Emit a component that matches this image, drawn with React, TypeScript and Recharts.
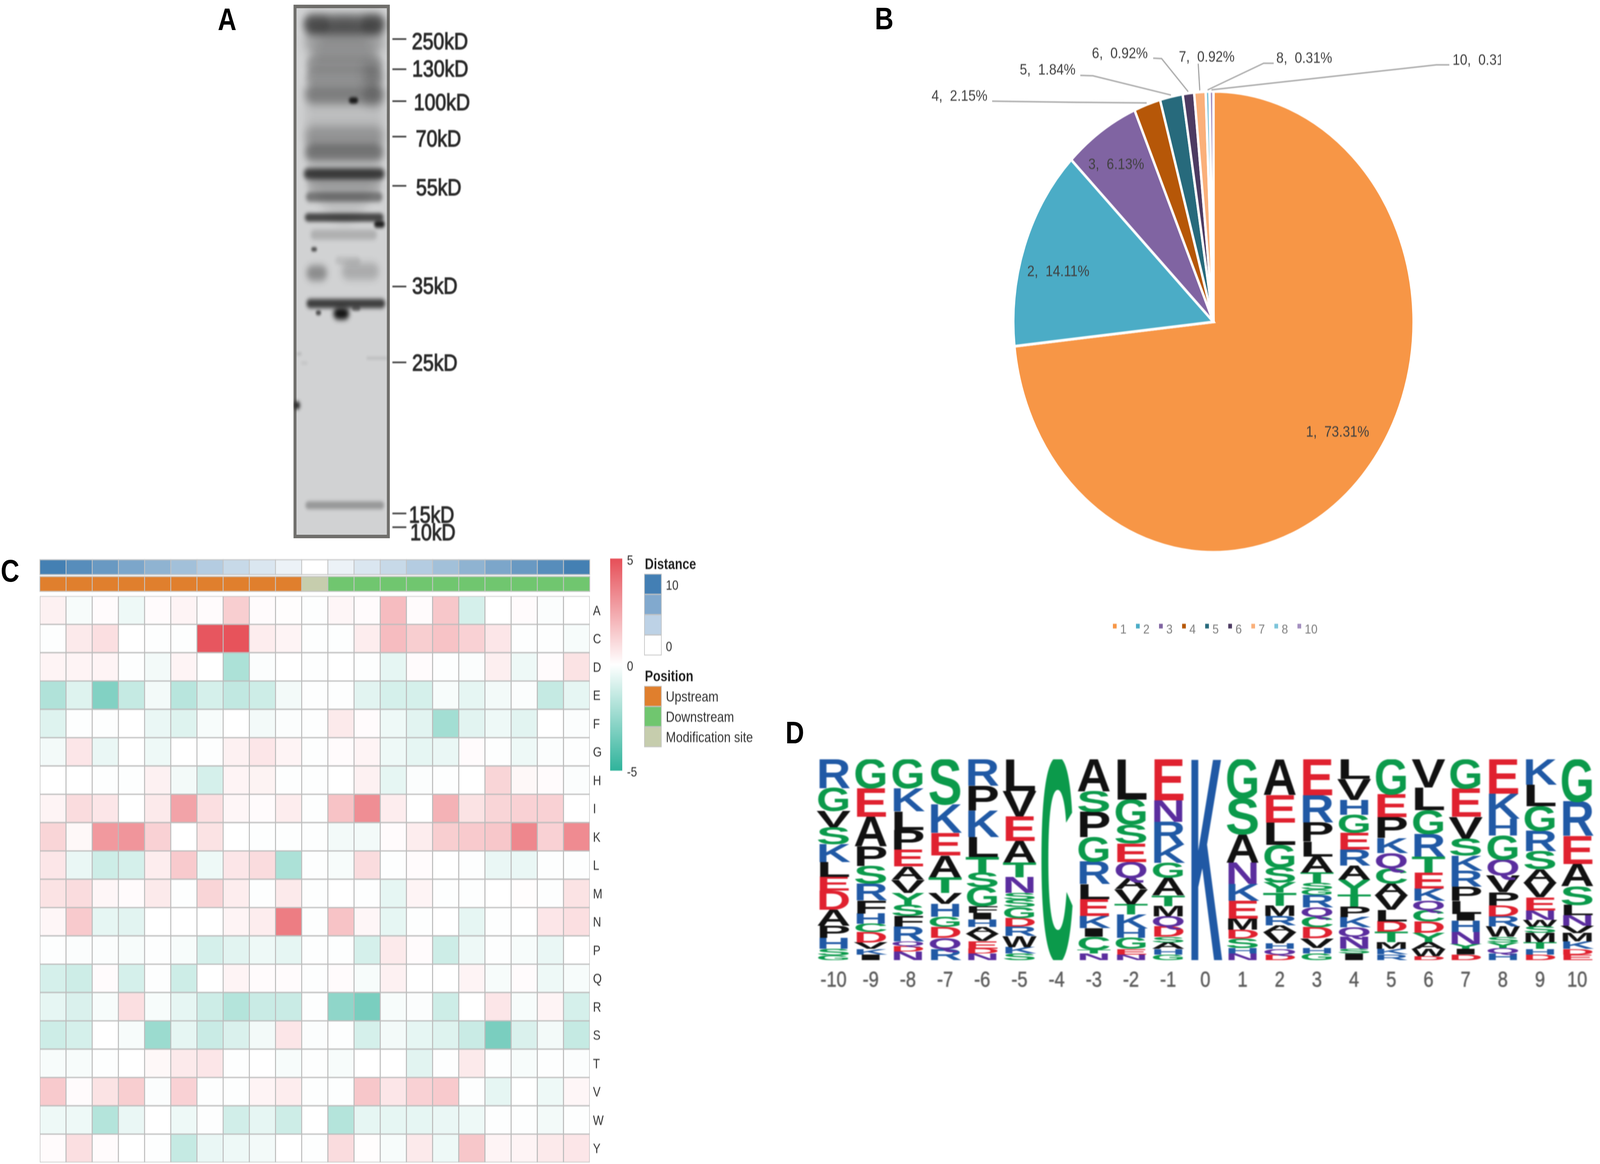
import React from 'react';
import { BarChart, Bar, XAxis, YAxis, ScatterChart, Scatter, PieChart, Pie, Legend } from 'recharts';

const FONT = '"Liberation Sans", Arial, sans-serif';
const PAGE_W = 4938;
const PAGE_H = 2980;

/* ---------- Panel A: blot ---------- */
const mwTicks = [110, 195, 285, 385, 524, 808, 1022, 1448, 1487];
const mwLabels = ['250kD', '130kD', '100kD', '70kD', '55kD', '35kD', '25kD', '15kD', '10kD'];
const bandLane = [722, 722, 590, 860, 722, 722, 722, 860, 722, 767, 860, 722, 722, 722, 722, 722, 722, 892, 720, 577, 590, 800, 740, 730, 708, 598, 780, 725, 495, 880, 505, 530];
const bandMigration = [340, 68, 68, 68, 115, 180, 215, 210, 265, 283, 270, 385, 430, 490, 520, 555, 613, 632, 662, 703, 770, 765, 735, 856, 884, 882, 870, 1425, 1143, 1010, 998, 1024];
const bandHalfWidth = [190, 195, 60, 55, 190, 185, 185, 50, 190, 22, 50, 190, 190, 195, 180, 185, 190, 26, 160, 14, 50, 90, 60, 190, 38, 13, 20, 190, 14, 50, 12, 15];
const bandHalfHeight = [290, 28, 24, 26, 50, 22, 22, 35, 28, 9, 30, 30, 24, 16, 20, 14, 12, 10, 14, 6, 22, 24, 12, 13, 17, 7, 7, 11, 12, 4, 4, 4];
const bandDensity = [0.1, 0.55, 0.25, 0.3, 0.28, 0.25, 0.25, 0.2, 0.38, 0.95, 0.2, 0.25, 0.42, 0.78, 0.2, 0.48, 0.72, 0.95, 0.18, 0.7, 0.36, 0.2, 0.1, 0.78, 1, 0.7, 0.45, 0.3, 0.9, 0.1, 0.14, 0.07];
const blotRows = bandLane.map((lane, i) => ({ lane, mig: bandMigration[i], hw: bandHalfWidth[i], hh: bandHalfHeight[i], d: bandDensity[i] }));

/* ---------- Panel B: pie ---------- */
const sliceNames = ['1', '2', '3', '4', '5', '6', '7', '8', '10'];
const sliceValues = [73.31, 14.11, 6.13, 2.15, 1.84, 0.92, 0.92, 0.31, 0.31];
const sliceColors = ['#F79646', '#4BACC6', '#8064A2', '#B65708', '#276A7C', '#4D3B62', '#FAB07A', '#7CC4DA', '#A48FC0'];
const pieRows = sliceNames.map((name, i) => ({ name, value: sliceValues[i], fill: sliceColors[i] }));

/* ---------- Panel C: heat map ---------- */
const aminoAcids = ['A', 'C', 'D', 'E', 'F', 'G', 'H', 'I', 'K', 'L', 'M', 'N', 'P', 'Q', 'R', 'S', 'T', 'V', 'W', 'Y'];
const positions = [-10, -9, -8, -7, -6, -5, -4, -3, -2, -1, 0, 1, 2, 3, 4, 5, 6, 7, 8, 9, 10];
const rowA = [0.4, -0.2, 0.1, -0.4, 0.1, 0.3, 0.1, 1.4, 0.1, 0.05, -0.05, 0.25, 0.1, 1.9, 0.1, 1.6, -1, 0, 0.1, -0.1, 0];
const rowC = [-0.05, 0.6, 0.9, 0, -0.05, -0.05, 4.8, 4.9, 0.5, 0.3, -0.05, -0.05, 0.5, 1.9, 1.4, 1.7, 1.3, 0.7, -0.05, -0.05, -0.2];
const rowD = [0.3, 0.3, 0.3, -0.05, -0.3, 0.3, 0, -2, -0.1, 0, -0.05, 0, -0.05, -0.6, 0.1, -0.05, -0.1, 0.45, -0.4, 0.1, 0.8];
const rowE = [-1.9, -0.8, -3, -1.4, -0.3, -1.7, -1, -1.5, -1.2, -0.3, -0.05, -0.05, -0.7, -1, -1, -0.2, -0.6, -0.3, -0.1, -1.4, -0.6];
const rowF = [-0.8, -0.05, -0.05, 0, -0.5, -0.8, -0.2, 0, -0.3, -0.1, -0.05, 0.6, 0.1, -0.4, -0.7, -2.2, -0.7, -0.4, -0.7, 0, -0.1];
const rowG = [-0.3, 0.7, -0.5, 0, -0.4, 0, -0.05, 0.4, 0.7, 0.3, -0.05, 0.1, 0.3, -0.4, -0.6, -0.5, 0.1, -0.05, -0.4, -0.1, -0.05];
const rowH = [0, 0, -0.05, -0.05, 0.4, -0.3, -1, 0.3, 0.35, -0.05, -0.05, 0, 0.4, -0.6, -0.1, -0.05, 0, 1.2, 0.2, 0.1, -0.1];
const rowI = [0.3, 1, 0.7, 0, 0.6, 2.6, 0.9, 0.25, 0.1, 0.5, -0.05, 1.7, 3.2, 0.5, 0, 2.2, 0.8, 1.2, 1.3, 1.3, 0];
const rowK = [1.2, 0.2, 2.9, 3, 1.3, 0, 0.8, 0, -0.05, -0.05, -0.05, -0.3, -0.3, 0.1, 0.5, 1.4, 1.5, 1.6, 3.4, 1.3, 3.3];
const rowL = [0.7, -0.5, -1.2, -1, 0.5, 1.5, -0.4, 0.7, 1, -2, -0.05, -0.2, 1, -0.05, 0.1, 0, -0.05, -0.5, -0.5, -0.05, -0.05];
const rowM = [0.8, 1, 0.25, 0.1, 0.6, -0.05, 1.2, 0.5, -0.05, 0.6, -0.05, 0, -0.05, -0.6, 0.3, -0.05, -0.05, 0, 0.05, -0.05, 0.8];
const rowN = [0.25, 1.5, -0.6, -0.7, 0, 0, 0, 0.3, 0.5, 3.7, -0.05, 1.7, 0.25, -0.6, -0.05, 0, -0.6, -0.05, 0, 0.7, 0.9];
const rowP = [-0.05, -0.1, -0.1, -0.2, -0.05, -0.2, -1, -0.7, -0.4, -0.6, -0.05, -0.05, -1, 0.6, 0.1, -1.2, -0.4, -0.05, -0.2, -0.5, 0];
const rowQ = [-1, -1.2, 0.1, -1, -0.05, -1.2, 0, 0.3, 0.1, 0.1, -0.05, 0.1, -0.2, 0.4, 0, 0, 0.3, -0.2, 0.1, -0.4, -0.2];
const rowR = [-0.6, -0.9, -0.2, 0.9, -0.2, -0.6, -1.2, -1.8, -1.3, -1.3, -0.05, -2.7, -3.2, -0.2, -0.1, -1.2, 0, 0.7, -0.2, 0.3, -1];
const rowS = [-1.2, -1, 0, -0.2, -2.4, -0.6, -1.3, -0.9, -0.3, 0.7, -0.1, -0.05, -1, -0.3, -0.6, -0.8, -1.3, -3.2, -0.9, -0.3, -1.4];
const rowT = [-0.2, -0.2, -0.05, 0, 0.2, 0.6, 0.7, -0.05, 0, -0.2, -0.05, -0.2, 0, 0, -0.7, -0.05, 0.6, -0.05, -0.2, -0.05, -0.1];
const rowV = [1.5, 0.1, 0.8, 1.4, -0.1, 1.3, -0.05, -0.05, 0.3, 0.5, -0.05, -0.05, 1.6, 0.7, 1.3, 1.5, -0.05, -0.6, 0, -0.4, 0.25];
const rowW = [-0.4, -0.4, -1.8, -0.5, 0, -0.4, -0.05, -1.1, -0.6, -1.2, 0, -1.8, -0.6, -0.6, -0.6, -0.5, -0.4, -0.05, -0.05, -0.3, -0.05];
const rowY = [0.1, 0.9, 0.1, 0, -0.05, -1.4, -0.5, -0.4, -0.3, 0, -0.05, 1, 0.05, -0.2, 0.6, -0.4, 1.6, 0.3, 0.3, 0.6, 0.7];
const heatRows = [rowA, rowC, rowD, rowE, rowF, rowG, rowH, rowI, rowK, rowL, rowM, rowN, rowP, rowQ, rowR, rowS, rowT, rowV, rowW, rowY];

const distances = [10, 9, 8, 7, 6, 5, 4, 3, 2, 1, 0, 1, 2, 3, 4, 5, 6, 7, 8, 9, 10];
const regionNames = ['Upstream', 'Downstream', 'Modification site'];
const regionColors = ['#E07F2D', '#70C66F', '#C6CDAD'];
const regionOfPosition = [0, 0, 0, 0, 0, 0, 0, 0, 0, 0, 2, 1, 1, 1, 1, 1, 1, 1, 1, 1, 1];
const distanceLegend = ['#437FB4', '#81A9CE', '#BDD2E6', '#FFFFFF'];

/* ---------- Panel D: sequence logo ---------- */
const logoLetters = ['RGVSKLEDAPHSG', 'GEAPSRFHCDVKI', 'GKLPEAVYSFRQDN', 'SKEATVHGDQR', 'RPKLTSGFIHAVEDN', 'LVEATNSSGDRWKS', 'C', 'ASPGRLEKICTN', 'LGSEQAVTKHGEN', 'ENRKGATMQDSAHG', 'K', 'GSANKEMDSHN', 'AELGSYTMRAVHQD', 'ERPLATSGRQCDVHG', 'LVHGERAYTPKQNSI', 'GEPKQCAVLDTMKR', 'VLGRTEKQCDYAWD', 'GEVSKRPLIHNYID', 'EKHGQVPDRWSYQH', 'KLGRSAVENWSMTHD', 'GREASLNVMKDE'];
const logoHeights = [
  [155, 123, 88, 90, 96, 80, 75, 103, 85, 65, 60, 35, 25],
  [155, 153, 160, 105, 95, 90, 70, 55, 45, 55, 35, 30, 30],
  [155, 123, 100, 105, 90, 70, 70, 65, 60, 55, 80, 25, 30, 45],
  [245, 155, 123, 118, 85, 60, 70, 55, 60, 60, 60],
  [140, 130, 140, 105, 85, 75, 100, 35, 35, 40, 35, 40, 40, 25, 35],
  [170, 137, 132, 115, 80, 85, 35, 40, 60, 45, 50, 60, 35, 35],
  [1115],
  [170, 110, 135, 130, 120, 80, 90, 65, 45, 70, 20, 35],
  [215, 135, 100, 100, 85, 60, 80, 55, 75, 50, 60, 30, 30],
  [220, 115, 122, 98, 80, 95, 57, 55, 55, 55, 30, 35, 30, 30],
  [1115],
  [210, 190, 150, 115, 90, 95, 60, 47, 50, 30, 35],
  [190, 147, 120, 120, 80, 55, 70, 55, 50, 35, 60, 30, 30, 30],
  [190, 145, 100, 80, 85, 55, 35, 30, 65, 50, 55, 60, 50, 30, 35],
  [105, 112, 80, 95, 90, 85, 75, 80, 65, 55, 55, 50, 65, 25, 35],
  [185, 120, 110, 80, 80, 80, 60, 80, 60, 55, 55, 35, 30, 30],
  [150, 120, 125, 120, 85, 85, 65, 50, 60, 60, 50, 35, 40, 20],
  [155, 150, 115, 90, 80, 85, 75, 70, 35, 60, 65, 25, 30, 30],
  [185, 135, 90, 130, 85, 90, 70, 60, 55, 55, 30, 30, 30, 35],
  [135, 115, 130, 110, 95, 70, 80, 70, 50, 35, 35, 50, 35, 30, 30],
  [225, 185, 150, 120, 100, 55, 55, 40, 45, 40, 30, 30],
];
const residueColor = (c: string) => {
  if ('GSTCY'.includes(c)) return '#0B9A4B';
  if ('RKH'.includes(c)) return '#2059A5';
  if ('ED'.includes(c)) return '#E0212F';
  if ('NQ'.includes(c)) return '#5A2D9E';
  return '#111111';
};
const MAX_STACK = Math.max(...logoLetters.map((s) => s.length));
const logoRows = positions.map((pos, c) => {
  const row: any = { pos };
  const hs = logoHeights[c];
  const sum = hs.reduce((a, b) => a + b, 0);
  const letters = logoLetters[c];
  hs.forEach((h, i) => {
    const k = hs.length - 1 - i; // stack slot, counted from the bottom
    row['s' + k] = (h / sum) * 100;
    row['l' + k] = letters[i];
  });
  return row;
});

/* ---------- helpers ---------- */
const hex = (c: string) => [1, 3, 5].map((i) => parseInt(c.slice(i, i + 2), 16));
const mix = (a: string, t: number) => {
  const v = hex(a).map((ch) => Math.round(255 + (ch - 255) * t));
  return `rgb(${v[0]},${v[1]},${v[2]})`;
};
const heatColor = (v: number) => (v >= 0 ? mix('#E64F58', Math.min(v / 5, 1)) : mix('#2FB39B', Math.min(-v / 5, 1)));

const heatData = heatRows.flatMap((vals, r) => vals.map((v, c) => ({ col: c, row: r, v })));
const distanceRows = positions.map((pos, i) => ({ pos, one: 1, fill: mix('#4480B3', distances[i] / 10) }));
const regionRows = positions.map((pos, i) => ({ pos, one: 1, fill: regionColors[regionOfPosition[i]] }));

const Abs = ({ x, y, size, color = '#333', bold = false, children }: any) => (
  <div style={{ position: 'absolute', left: x, top: y, transform: 'translateY(-50%)', fontFamily: FONT, fontSize: size, color, fontWeight: bold ? 700 : 400, whiteSpace: 'pre', lineHeight: 1 }}>{children}</div>
);
const Box = ({ x, y, w, h, fill }: any) => (
  <div style={{ position: 'absolute', left: x, top: y, width: w, height: h, background: fill, boxSizing: 'border-box', border: '2px solid #c2c2c2' }} />
);

/* ---------- Panel A ---------- */
const labelDx = [68, 69, 74, 80, 81, 69, 69, 59, 63];
const labelDy = [4, -3, 2, 4, 3, -3, 0, 2, 12];
const BLOT_X = 297 / 464;
const BLOT_Y = 1366 / 1505;
const BandShape = (p: any) => {
  const { cx, cy, payload } = p;
  if (cx == null || cy == null) return null;
  const w = payload.hw * BLOT_X;
  const h = payload.hh * BLOT_Y;
  const blur = Math.max(3, Math.min(h * 0.45, 14));
  return <rect x={cx - w} y={cy - h} width={2 * w} height={2 * h} rx={h} ry={h} fill="#141414" fillOpacity={payload.d} style={{ filter: `blur(${blur}px)` }} />;
};
const BlotTick = ({ x, y, index }: any) => (
  <g>
    <line x1={x + 8} x2={x + 51} y1={y} y2={y} stroke="#333" strokeWidth={4} />
    <text x={x + labelDx[index]} y={y + labelDy[index]} dy="0.36em" fontFamily={FONT} fontSize={60} fill="#2a2a2a" stroke="#2a2a2a" strokeWidth={2}>{mwLabels[index]}</text>
  </g>
);
const PanelA = () => (
  <>
    <div style={{ position: 'absolute', left: 906, top: 12, width: 297, height: 1366, boxSizing: 'border-box', background: '#d1d2d3', border: '9px solid #706f6c' }} />
    <div style={{ position: 'absolute', left: 880, top: 0, filter: 'blur(1.5px)' }}>
      <ScatterChart width={720} height={1420} margin={{ top: 12, left: 26, right: 0, bottom: 42 }}>
        <XAxis type="number" dataKey="lane" domain={[478, 942]} hide allowDataOverflow />
        <YAxis type="number" dataKey="mig" domain={[13, 1518]} reversed orientation="right" width={397} ticks={mwTicks} interval={0} axisLine={false} tickLine={false} tickSize={0} tickMargin={0} tick={<BlotTick />} allowDataOverflow />
        <Scatter data={blotRows} shape={BandShape} isAnimationActive={false} />
      </ScatterChart>
    </div>
  </>
);

/* ---------- Panel B ---------- */
const PIE_LEFT = 2840;
const PIE_SX = 1.047;
const PIE_CX = (3745 - PIE_LEFT) / PIE_SX;
const PIE_CY = 824;
const PIE_R = 590;
const px = (real: number) => (real - PIE_LEFT) / PIE_SX;
const labelSpots: any = {
  0: { x: 4128, y: 1104, mid: true },
  1: { x: 3266, y: 693, mid: true },
  2: { x: 3445, y: 419, mid: true },
  3: { x: 2875, y: 244, line: [[3062, 259], [3323, 262]] },
  4: { x: 3147, y: 177, line: [[3334, 193], [3373, 194]] },
  5: { x: 3370, y: 135, line: [[3559, 149], [3585, 150]] },
  6: { x: 3638, y: 144, line: [[3698, 163]] },
  7: { x: 3939, y: 147, line: [[3931, 162], [3900, 162]] },
  8: { x: 4483, y: 152, line: [[4473, 166], [4433, 166]] },
};
const PieLabel = (p: any) => {
  const i = p.index;
  const s = labelSpots[i];
  const text = `${sliceNames[i]},  ${sliceValues[i].toFixed(2)}%`;
  const rad = (-p.midAngle * Math.PI) / 180;
  const ax = PIE_CX + (PIE_R + 4) * Math.cos(rad);
  const ay = PIE_CY + (PIE_R + 4) * Math.sin(rad);
  return (
    <g>
      {s.line && <polyline points={[...s.line.map((q: number[]) => `${px(q[0])},${q[1]}`), `${ax},${ay}`].join(' ')} fill="none" stroke="#a6a6a6" strokeWidth={3.5} />}
      <text x={px(s.x)} y={s.y} dy="0.36em" textAnchor={s.mid ? 'middle' : 'start'} fontFamily={FONT} fontSize={39} fill="#404040" style={{ whiteSpace: 'pre' }}>{text}</text>
    </g>
  );
};
const PieLegend = () => (
  <div style={{ display: 'flex', fontFamily: FONT, fontSize: 34, color: '#7f7f7f', lineHeight: '44px' }}>
    {sliceNames.map((n, i) => (
      <div key={n} style={{ width: 68, display: 'flex', alignItems: 'flex-start' }}>
        <span style={{ width: 11, height: 12, marginTop: 9, marginRight: 10, background: sliceColors[i], flex: 'none' }} />
        <span>{n}</span>
      </div>
    ))}
  </div>
);
const PanelB = () => (
  <div style={{ position: 'absolute', left: PIE_LEFT, top: 0, width: 4632 - PIE_LEFT, height: 1680, overflow: 'hidden', filter: 'blur(0.8px)' }}>
    <div style={{ transform: `scaleX(${PIE_SX})`, transformOrigin: '0 0', width: 1712 }}>
      <PieChart width={1712} height={1680} margin={{ top: 0, left: 0, right: 0, bottom: 0 }}>
        <Pie data={pieRows} dataKey="value" nameKey="name" cx={PIE_CX} cy={PIE_CY} innerRadius={0} outerRadius={PIE_R} startAngle={90} endAngle={-270} stroke="#ffffff" strokeWidth={7} label={PieLabel} labelLine={false} isAnimationActive={false} />
        <Legend content={<PieLegend />} wrapperStyle={{ position: 'absolute', left: px(3435), top: 1588, width: 760, bottom: 'auto' }} />
      </PieChart>
    </div>
  </div>
);

/* ---------- Panel C ---------- */
const CELL_W = 1697 / 21;
const CELL_H = 1450 / 20;
const HeatCell = (p: any) => {
  const { cx, cy, payload } = p;
  if (cx == null || cy == null) return null;
  return <rect x={cx - CELL_W / 2} y={cy - CELL_H / 2} width={CELL_W} height={CELL_H} fill={heatColor(payload.v)} stroke="#bcbcbc" strokeWidth={3} />;
};
const Tile = (p: any) => <rect x={p.x} y={p.y} width={p.width} height={p.height} fill={p.payload.fill} stroke="#c4c4c4" strokeWidth={2.5} />;
const Strip = ({ rows, top }: any) => (
  <div style={{ position: 'absolute', left: 121, top: top - 2 }}>
    <BarChart width={1701} height={42} data={rows} margin={{ top: 2, left: 2, right: 2, bottom: 2 }} barCategoryGap={0}>
      <XAxis dataKey="pos" hide />
      <YAxis type="number" domain={[0, 1]} hide />
      <Bar dataKey="one" shape={Tile} isAnimationActive={false} />
    </BarChart>
  </div>
);
const heatTicks = aminoAcids.map((_, i) => i);
const PanelC = () => (
  <div style={{ position: 'absolute', left: 0, top: 0, filter: 'blur(0.9px)' }}>
    <Strip rows={distanceRows} top={1433} />
    <Strip rows={regionRows} top={1476} />
    <div style={{ position: 'absolute', left: 100, top: 1510 }}>
      <ScatterChart width={1790} height={1468} margin={{ top: 16, left: 23, right: 0, bottom: 2 }}>
        <XAxis type="number" dataKey="col" domain={[-0.5, 20.5]} hide allowDataOverflow />
        <YAxis type="number" dataKey="row" domain={[-0.5, 19.5]} reversed orientation="right" width={70} ticks={heatTicks} interval={0} tickFormatter={(i: number) => aminoAcids[i]} axisLine={false} tickLine={false} tickMargin={4} tick={{ fontFamily: FONT, fontSize: 35, fill: '#333' }} allowDataOverflow />
        <Scatter data={heatData} shape={HeatCell} isAnimationActive={false} />
      </ScatterChart>
    </div>
    <div style={{ position: 'absolute', left: 1883, top: 1430, width: 38, height: 543, background: 'linear-gradient(to bottom, #E64F58 0%, #FFFFFF 50%, #2FB39B 100%)' }} />
    <Abs x={1935} y={1433} size={35}>5</Abs>
    <Abs x={1935} y={1704} size={35}>0</Abs>
    <Abs x={1935} y={1975} size={35}>-5</Abs>
    <Abs x={1990} y={1444} size={38} bold color="#222">Distance</Abs>
    {distanceLegend.map((c, i) => <Box key={c} x={1988} y={1469 + i * 52} w={54} h={53} fill={c} />)}
    <Abs x={2055} y={1497} size={35}>10</Abs>
    <Abs x={2055} y={1654} size={35}>0</Abs>
    <Abs x={1990} y={1731} size={38} bold color="#222">Position</Abs>
    {regionColors.map((c, i) => <Box key={c} x={1988} y={1756 + i * 52} w={54} h={53} fill={c} />)}
    {regionNames.map((n, i) => <Abs key={n} x={2055} y={1784 + i * 52} size={37.5}>{n}</Abs>)}
  </div>
);

/* ---------- Panel D ---------- */
const CAP = 0.69;
const makeLetter = (k: number) => (p: any) => {
  const { x, y, width, height, payload } = p;
  const ch = payload['l' + k];
  if (!ch || !(height > 0)) return null;
  return (
    <text x={x} y={y + height} fontFamily={FONT} fontWeight={700} fontSize={height / CAP} fill={residueColor(ch)} textLength={width} lengthAdjust="spacingAndGlyphs">{ch}</text>
  );
};
const stackSlots = Array.from({ length: MAX_STACK }, (_, k) => k);
const PanelD = () => (
  <div style={{ position: 'absolute', left: 2500, top: 1900, filter: 'blur(1.8px)' }}>
    <BarChart width={2438} height={660} data={logoRows} margin={{ top: 44, left: 15, right: 13, bottom: 0 }} barCategoryGap="4%">
      <XAxis dataKey="pos" type="category" interval={0} height={102} axisLine={false} tickLine={false} tickMargin={22} tick={{ fontFamily: FONT, fontSize: 56, fill: '#5c5c5c', stroke: '#5c5c5c', strokeWidth: 1 }} />
      <YAxis type="number" domain={[0, 100]} hide allowDataOverflow />
      {stackSlots.map((k) => (
        <Bar key={k} dataKey={'s' + k} stackId="logo" shape={makeLetter(k)} isAnimationActive={false} />
      ))}
    </BarChart>
  </div>
);

export default function App() {
  // The browser may give a window narrower than the page: fit the page's width into it.
  const fit = Math.min(1, window.innerWidth / PAGE_W);
  return (
    <div style={{ position: 'absolute', left: 0, top: 0, width: PAGE_W, height: PAGE_H, background: '#fff', overflow: 'hidden', transform: `scaleX(${fit})`, transformOrigin: '0 0' }}>
      <PanelA />
      <PanelB />
      <PanelC />
      <PanelD />
      <Abs x={672} y={50} size={80} bold color="#000">A</Abs>
      <Abs x={2700} y={48} size={80} bold color="#000">B</Abs>
      <Abs x={2} y={1462} size={80} bold color="#000">C</Abs>
      <Abs x={2424} y={1876} size={80} bold color="#000">D</Abs>
    </div>
  );
}
